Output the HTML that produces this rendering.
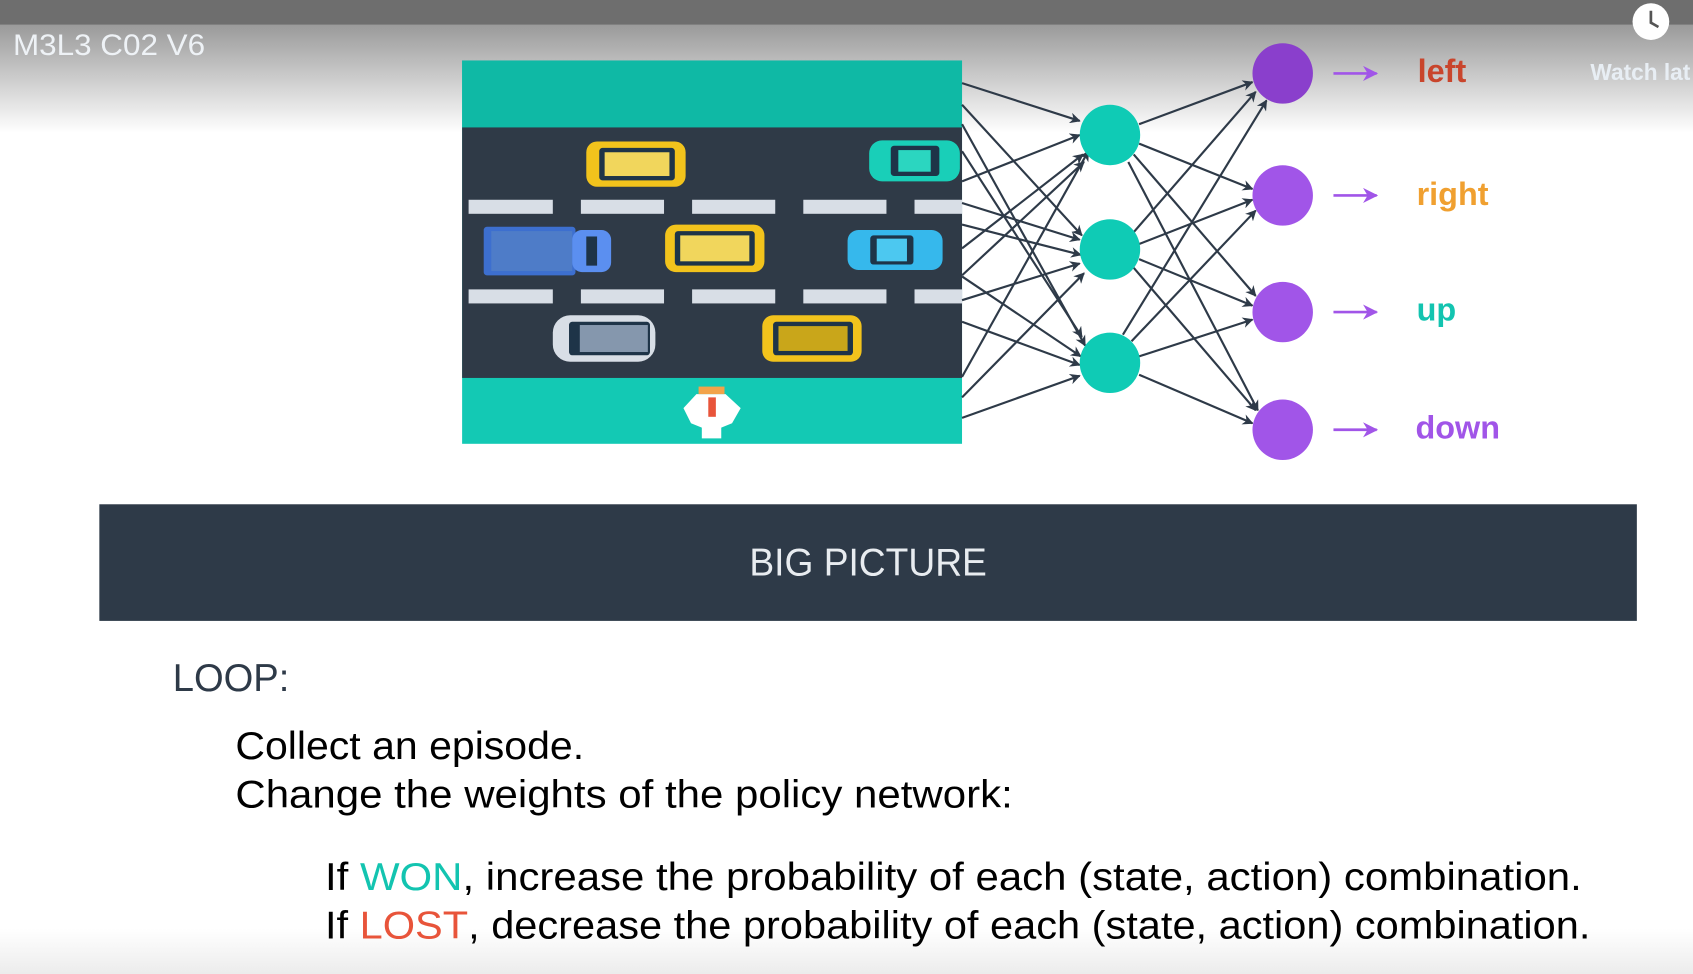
<!DOCTYPE html>
<html><head><meta charset="utf-8"><style>html,body{margin:0;padding:0;background:#fff;overflow:hidden}svg{display:block}</style></head>
<body>
<svg width="1693" height="974" viewBox="0 0 1568 902" preserveAspectRatio="none" xmlns="http://www.w3.org/2000/svg" font-family="'Liberation Sans', sans-serif">
<defs>
<linearGradient id="bg" x1="0" y1="0" x2="0" y2="1">
<stop offset="0" stop-color="#9a9a9a"/><stop offset="1" stop-color="#ffffff"/></linearGradient>
<linearGradient id="bb" x1="0" y1="0" x2="0" y2="1">
<stop offset="0" stop-color="#ffffff"/><stop offset="1" stop-color="#ececec"/></linearGradient>
<marker id="ah" viewBox="0 0 10 10" refX="9" refY="5" markerWidth="10" markerHeight="10" orient="auto" markerUnits="userSpaceOnUse"><path d="M0,0 L10,5 L0,10 L3,5 z" fill="#2e3a48"/></marker>
<marker id="pa" viewBox="0 0 10 10" refX="9" refY="5" markerWidth="14" markerHeight="14" orient="auto" markerUnits="userSpaceOnUse"><path d="M0,0 L10,5 L0,10 L3,5 z" fill="#a155e8"/></marker>
</defs>
<rect width="1568" height="902" fill="#fff"/>
<rect y="23" width="1568" height="100" fill="url(#bg)"/>
<rect width="1568" height="23" fill="#6e6e6e"/>
<rect y="860" width="1568" height="42" fill="url(#bb)"/>
<text x="12" y="51" font-size="27" fill="#eef2f6" textLength="178" lengthAdjust="spacingAndGlyphs">M3L3 C02 V6</text>
<circle cx="1529" cy="20" r="17" fill="#fff"/>
<path d="M1529,10 L1529,21 L1536,25" stroke="#555" stroke-width="2.5" fill="none"/>
<text x="1473" y="74" font-size="21" font-weight="600" fill="#e8eef4">Watch lat</text>

<rect x="428" y="56" width="463" height="355" fill="#13c9b4"/>
<rect x="428" y="56" width="463" height="62" fill="#0fb9a5"/>
<rect x="428" y="118" width="463" height="232" fill="#2f3a47"/>
<g fill="#d8dee6">
<rect x="434" y="185" width="78" height="13"/><rect x="538" y="185" width="77" height="13"/><rect x="641" y="185" width="77" height="13"/><rect x="744" y="185" width="77" height="13"/><rect x="847" y="185" width="44" height="13"/>
<rect x="434" y="268" width="78" height="13"/><rect x="538" y="268" width="77" height="13"/><rect x="641" y="268" width="77" height="13"/><rect x="744" y="268" width="77" height="13"/><rect x="847" y="268" width="44" height="13"/>
</g>
<rect x="543" y="131" width="92" height="42" rx="10" fill="#f2c31c"/><rect x="555" y="137" width="70" height="30" rx="3" fill="#1e3448"/><rect x="560" y="141" width="60" height="22" fill="#f1d65c"/>
<rect x="805" y="130" width="84" height="38" rx="12" fill="#19cfb8"/><rect x="825" y="135" width="45" height="28" rx="3" fill="#1e3448"/><rect x="832" y="139" width="30" height="20" fill="#2bd6c0"/>
<rect x="448" y="210" width="85" height="45" rx="3" fill="#3d6fcf"/><rect x="455" y="214" width="75" height="37" fill="#4e7cc8"/><rect x="530" y="213" width="36" height="39" rx="9" fill="#5b8ff0"/><rect x="543" y="219" width="10" height="27" fill="#1e3448"/>
<rect x="616" y="208" width="92" height="44" rx="10" fill="#f2c31c"/><rect x="625" y="214" width="74" height="32" rx="3" fill="#1e3448"/><rect x="630" y="218" width="64" height="24" fill="#f1d65c"/>
<rect x="785" y="213" width="88" height="37" rx="10" fill="#36b8ec"/><rect x="806" y="218" width="40" height="27" rx="3" fill="#1e3448"/><rect x="812" y="221" width="28" height="21" fill="#4cc8f0"/>
<rect x="512" y="292" width="95" height="43" rx="16" fill="#d8dee6"/><rect x="527" y="298" width="75" height="31" rx="3" fill="#1e3448"/><rect x="537" y="301" width="63" height="25" fill="#8597ad"/>
<rect x="706" y="292" width="92" height="43" rx="10" fill="#f2c31c"/><rect x="716" y="298" width="74" height="31" rx="3" fill="#1e3448"/><rect x="721" y="302" width="64" height="23" fill="#c9a61a"/>
<path d="M645,365 L672,365 L686,378 L678,392 L668,396 L668,406 L650,406 L650,396 L640,392 L633,378 Z" fill="#fff"/>
<rect x="656" y="368" width="7" height="18" fill="#e8543a"/>
<rect x="647" y="358" width="24" height="7" fill="#f2a34a"/>

<g stroke="#2e3a48" stroke-width="2" marker-end="url(#ah)">
<line x1="891" y1="77" x2="1000" y2="112"/>
<line x1="891" y1="97" x2="1002" y2="218"/>
<line x1="891" y1="115" x2="1005" y2="320"/>
<line x1="891" y1="168" x2="1000" y2="125"/>
<line x1="891" y1="188" x2="1000" y2="222"/>
<line x1="891" y1="140" x2="1002" y2="312"/>
<line x1="891" y1="208" x2="1001" y2="236"/>
<line x1="891" y1="230" x2="1003" y2="143"/>
<line x1="891" y1="256" x2="1001" y2="330"/>
<line x1="891" y1="278" x2="1000" y2="244"/>
<line x1="891" y1="255" x2="1004" y2="150"/>
<line x1="891" y1="298" x2="1000" y2="338"/>
<line x1="891" y1="349" x2="1008" y2="140"/>
<line x1="891" y1="368" x2="1004" y2="253"/>
<line x1="891" y1="387" x2="1000" y2="348"/>
</g>
<g stroke="#2e3a48" stroke-width="2" marker-end="url(#ah)">
<line x1="1055" y1="115" x2="1160" y2="76"/>
<line x1="1055" y1="133" x2="1160" y2="175"/>
<line x1="1050" y1="143" x2="1163" y2="274"/>
<line x1="1045" y1="150" x2="1165" y2="380"/>
<line x1="1050" y1="215" x2="1163" y2="85"/>
<line x1="1055" y1="226" x2="1160" y2="185"/>
<line x1="1055" y1="240" x2="1160" y2="283"/>
<line x1="1050" y1="248" x2="1163" y2="380"/>
<line x1="1040" y1="310" x2="1173" y2="93"/>
<line x1="1048" y1="316" x2="1163" y2="195"/>
<line x1="1055" y1="330" x2="1160" y2="296"/>
<line x1="1055" y1="347" x2="1160" y2="392"/>
</g>
<g fill="#0fcbb5">
<circle cx="1028" cy="125" r="28"/><circle cx="1028" cy="231" r="28"/><circle cx="1028" cy="336" r="28"/>
</g>
<circle cx="1188" cy="68" r="28" fill="#8a3fcc"/>
<circle cx="1188" cy="181" r="28" fill="#a155e8"/>
<circle cx="1188" cy="289" r="28" fill="#a155e8"/>
<circle cx="1188" cy="398" r="28" fill="#a155e8"/>
<g stroke="#a155e8" stroke-width="2.5" marker-end="url(#pa)">
<line x1="1235" y1="68" x2="1275" y2="68"/>
<line x1="1235" y1="181" x2="1275" y2="181"/>
<line x1="1235" y1="289" x2="1275" y2="289"/>
<line x1="1235" y1="398" x2="1275" y2="398"/>
</g>
<g font-size="30" font-weight="600">
<text x="1313" y="76" fill="#c9452c">left</text>
<text x="1312" y="190" fill="#f0a030">right</text>
<text x="1312" y="297" fill="#13c4b0">up</text>
<text x="1311" y="406" fill="#a155e8">down</text>
</g>

<rect x="92" y="467" width="1424" height="108" fill="#2e3a48"/>
<text x="804" y="533" font-size="36" fill="#e8ecf0" text-anchor="middle" textLength="220" lengthAdjust="spacingAndGlyphs">BIG PICTURE</text>

<text x="160" y="640" font-size="36" fill="#2e3a48" textLength="108" lengthAdjust="spacingAndGlyphs">LOOP:</text>
<text x="218" y="703" font-size="36" fill="#000" textLength="323" lengthAdjust="spacingAndGlyphs">Collect an episode.</text>
<text x="218" y="748" font-size="36" fill="#000" textLength="720" lengthAdjust="spacingAndGlyphs">Change the weights of the policy network:</text>
<text x="301" y="824" font-size="36" fill="#000" textLength="1164" lengthAdjust="spacingAndGlyphs">If <tspan fill="#13c4b0">WON</tspan>, increase the probability of each (state, action) combination.</text>
<text x="301" y="869" font-size="36" fill="#000" textLength="1172" lengthAdjust="spacingAndGlyphs">If <tspan fill="#e8543a">LOST</tspan>, decrease the probability of each (state, action) combination.</text>
</svg>
</body></html>
